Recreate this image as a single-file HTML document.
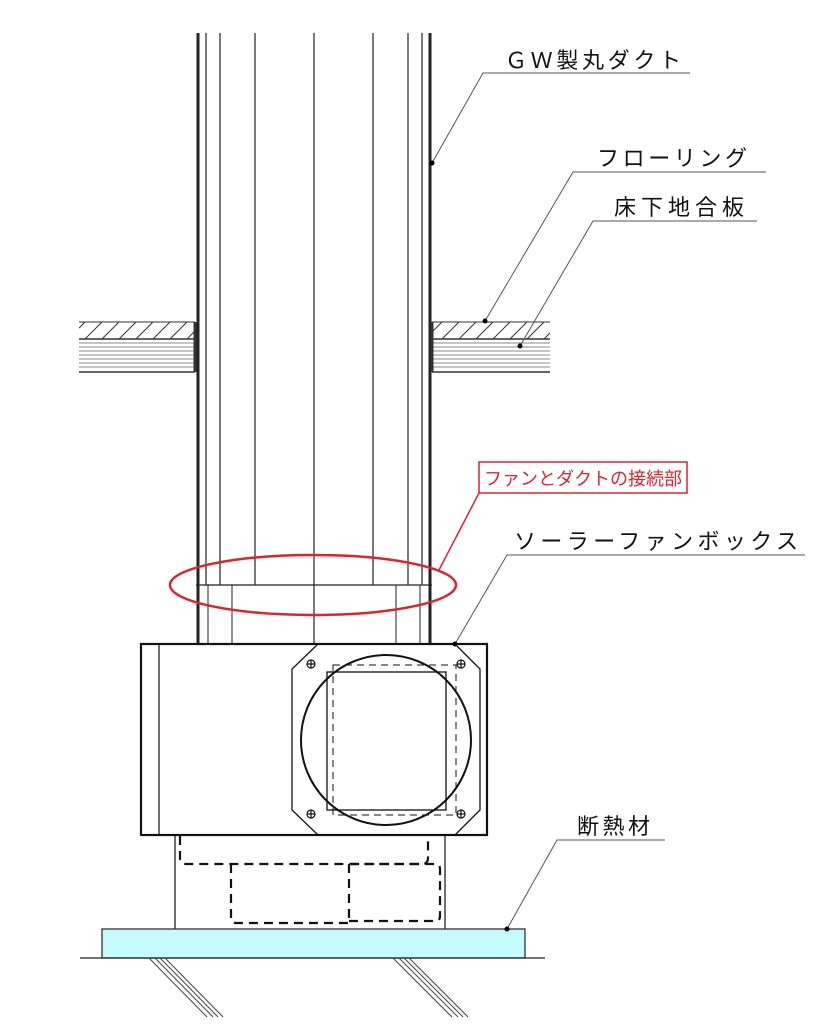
<!DOCTYPE html>
<html><head><meta charset="utf-8"><style>
html,body{margin:0;padding:0;background:#fff;}
svg{display:block;}
text{font-family:"Liberation Sans","Noto Sans CJK JP",sans-serif;}
</style></head><body>
<svg width="821" height="1024" viewBox="0 0 821 1024" xmlns="http://www.w3.org/2000/svg">
<defs>
<pattern id="hatch" patternUnits="userSpaceOnUse" width="17" height="17" patternTransform="translate(0,322)">
<line x1="0" y1="17" x2="17" y2="0" stroke="#333" stroke-width="1"/>
</pattern>
</defs>
<g stroke="#222" fill="none">
<line x1="198" y1="33" x2="198" y2="644" stroke-width="3"/>
<line x1="206" y1="33" x2="206" y2="585" stroke-width="1.2"/>
<line x1="220" y1="33" x2="220" y2="585" stroke-width="1.2"/>
<line x1="255" y1="33" x2="255" y2="585" stroke-width="1.2"/>
<line x1="314" y1="33" x2="314" y2="644" stroke-width="1.2"/>
<line x1="373" y1="33" x2="373" y2="585" stroke-width="1.2"/>
<line x1="408" y1="33" x2="408" y2="585" stroke-width="1.2"/>
<line x1="422" y1="33" x2="422" y2="585" stroke-width="1.2"/>
<line x1="430" y1="33" x2="430" y2="644" stroke-width="3"/>
<line x1="196" y1="585" x2="432" y2="585" stroke-width="1.2"/>
<line x1="208" y1="585" x2="208" y2="644" stroke-width="1"/>
<line x1="232" y1="585" x2="232" y2="644" stroke-width="1"/>
<line x1="396" y1="585" x2="396" y2="644" stroke-width="1"/>
<line x1="420" y1="585" x2="420" y2="644" stroke-width="1"/>
</g>
<rect x="79" y="322" width="116" height="17" fill="url(#hatch)"/>
<rect x="432" y="322" width="118" height="17" fill="url(#hatch)"/>
<g stroke="#333" stroke-width="1">
<line x1="79" y1="322" x2="195" y2="322"/><line x1="432" y1="322" x2="550" y2="322"/>
<line x1="79" y1="339" x2="195" y2="339" stroke-width="1.5"/><line x1="432" y1="339" x2="550" y2="339" stroke-width="1.5"/>
<line x1="79" y1="343" x2="195" y2="343" stroke="#888"/><line x1="432" y1="343" x2="550" y2="343" stroke="#888"/>
<line x1="79" y1="347" x2="195" y2="347" stroke="#888"/><line x1="432" y1="347" x2="550" y2="347" stroke="#888"/>
<line x1="79" y1="351" x2="195" y2="351" stroke="#888"/><line x1="432" y1="351" x2="550" y2="351" stroke="#888"/>
<line x1="79" y1="355" x2="195" y2="355" stroke="#888"/><line x1="432" y1="355" x2="550" y2="355" stroke="#888"/>
<line x1="79" y1="359" x2="195" y2="359" stroke="#888"/><line x1="432" y1="359" x2="550" y2="359" stroke="#888"/>
<line x1="79" y1="363" x2="195" y2="363" stroke="#888"/><line x1="432" y1="363" x2="550" y2="363" stroke="#888"/>
<line x1="79" y1="367" x2="195" y2="367" stroke="#888"/><line x1="432" y1="367" x2="550" y2="367" stroke="#888"/>
<line x1="79" y1="372" x2="195" y2="372" stroke-width="1.5"/><line x1="432" y1="372" x2="550" y2="372" stroke-width="1.5"/>
<line x1="195" y1="322" x2="195" y2="372" stroke-width="3"/><line x1="432" y1="322" x2="432" y2="372" stroke-width="3"/>
</g>
<g stroke="#111" fill="none">
<rect x="141" y="644" width="346" height="191" stroke-width="2.2" fill="#fff"/>
<line x1="159" y1="644" x2="159" y2="835" stroke-width="1.2"/>
<polygon points="318,644 455,644 480,669 480,810 455,835 318,835 292,810 292,669" stroke-width="1.3"/>
<rect x="327" y="672" width="119" height="138" stroke-width="1.3"/>
<rect x="333" y="665" width="123" height="150" stroke-width="1" stroke-dasharray="7,5"/>
<circle cx="386" cy="740" r="85" stroke-width="2"/>
<g stroke-width="1.2">
<circle cx="311" cy="664" r="4"/><line x1="307" y1="664" x2="315" y2="664"/><line x1="311" y1="660" x2="311" y2="668"/>
<circle cx="461" cy="664" r="4"/><line x1="457" y1="664" x2="465" y2="664"/><line x1="461" y1="660" x2="461" y2="668"/>
<circle cx="311" cy="814" r="4"/><line x1="307" y1="814" x2="315" y2="814"/><line x1="311" y1="810" x2="311" y2="818"/>
<circle cx="461" cy="814" r="4"/><line x1="457" y1="814" x2="465" y2="814"/><line x1="461" y1="810" x2="461" y2="818"/>
</g>
</g>
<g stroke="#222" fill="none">
<line x1="175" y1="836" x2="175" y2="929" stroke-width="1.3"/>
<line x1="445" y1="836" x2="445" y2="929" stroke-width="1.3"/>
<g stroke-dasharray="9,6" stroke-width="2.2" stroke="#111">
<path d="M180 836 V858 Q180 864 186 864 H422 Q428 864 428 858 V836"/>
<path d="M231 864 V918 Q231 923 236 923 H349"/>
<line x1="349" y1="864" x2="349" y2="922"/>
<path d="M349 921 H435 Q440 921 440 916 V869 Q440 864 435 864 H349"/>
</g>
</g>
<rect x="102" y="929" width="423" height="29" fill="#c4fbff" stroke="#222" stroke-width="1.2"/>
<line x1="80" y1="958" x2="545" y2="958" stroke="#222" stroke-width="1.2"/>
<g stroke="#444" stroke-width="1">
<line x1="149" y1="958" x2="207" y2="1017"/><line x1="155" y1="958" x2="213" y2="1017"/>
<line x1="160" y1="958" x2="218" y2="1017"/><line x1="165" y1="958" x2="223" y2="1017"/>
<line x1="393" y1="958" x2="452" y2="1017"/><line x1="399" y1="958" x2="458" y2="1017"/>
<line x1="404" y1="958" x2="463" y2="1017"/><line x1="409" y1="958" x2="468" y2="1017"/>
</g>
<ellipse cx="313" cy="585" rx="143" ry="30" fill="none" stroke="#d9252f" stroke-width="2.5"/>
<rect x="479" y="462" width="208" height="31" fill="#fff" stroke="#d9252f" stroke-width="1.5"/>
<text x="583" y="485" font-size="18" fill="#d9252f" text-anchor="middle">ファンとダクトの接続部</text>
<line x1="479" y1="493" x2="439" y2="570" stroke="#d9252f" stroke-width="1.5"/>
<g stroke="#555" stroke-width="1" fill="none">
<polyline points="432,163 483,73 690,73"/>
<polyline points="485,321 573,172 766,172"/>
<polyline points="520,346 593,221 757,221"/>
<polyline points="455,644 507,555 805,555"/>
<polyline points="507,929 557,840 665,840"/>
</g>
<g fill="#000">
<circle cx="432" cy="163" r="2.5"/><circle cx="485" cy="321" r="2.5"/><circle cx="520" cy="346" r="2.5"/>
<circle cx="455" cy="644" r="2.5"/><circle cx="507" cy="929" r="2.5"/>
</g>
<g font-size="22" fill="#111">
<text x="505" y="68" textLength="176" lengthAdjust="spacing">ＧＷ製丸ダクト</text>
<text x="597" y="166" textLength="150" lengthAdjust="spacing">フローリング</text>
<text x="614" y="215" textLength="130" lengthAdjust="spacing">床下地合板</text>
<text x="514" y="549" textLength="284" lengthAdjust="spacing">ソーラーファンボックス</text>
<text x="577" y="834" textLength="73" lengthAdjust="spacing">断熱材</text>
</g>
</svg>
</body></html>
